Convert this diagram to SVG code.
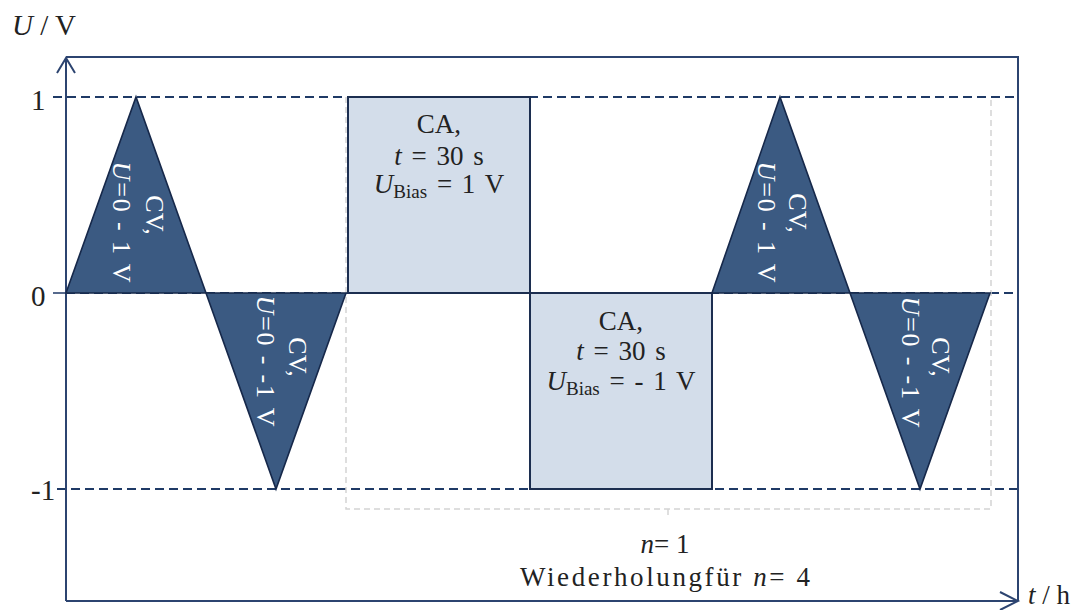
<svg xmlns="http://www.w3.org/2000/svg" width="1086" height="610" viewBox="0 0 1086 610">
<style>
text{font-family:"Liberation Serif","Times New Roman",serif;fill:#222;font-size:27px}
.lvl{stroke:#1f3a66;stroke-width:1.8;stroke-dasharray:9 5;fill:none}
.frame{stroke:#2c4470;stroke-width:2;fill:none}
.tri{fill:#3b5a82;stroke:#16284a;stroke-width:1.6;stroke-linejoin:miter}
.ca{fill:#d3ddea;stroke:#1c2e50;stroke-width:2}
.wt{fill:#ffffff;font-size:26px}
.it{font-style:italic}
.gray{stroke:#d4d4d4;stroke-width:1.5;stroke-dasharray:6 4;fill:none}
.lab{font-size:29px}
.ct{word-spacing:3px}
</style>
<rect x="0" y="0" width="1086" height="610" fill="#ffffff"/>
<g id="levels">
<line class="lvl" x1="53" y1="97" x2="1018" y2="97"/>
<line class="lvl" x1="66" y1="293" x2="1018" y2="293"/>
<line x1="53" y1="293" x2="66" y2="293" stroke="#2c4470" stroke-width="1.6"/>
<line class="lvl" x1="57" y1="489" x2="1018" y2="489"/>
</g>
<g id="bracket">
<path class="gray" d="M346,97 V509 H991 V97"/>
<line x1="668" y1="509" x2="668" y2="515" stroke="#d4d4d4" stroke-width="1.5"/>
</g>
<g id="axes">
<path class="frame" d="M66,601 V58 M57,73 L66,58 L75,73 M66,57 H1018 V601 M66,601 H1018 M1000,592 L1018,601 L1000,610"/>
</g>
<g id="cv1">
<polygon class="tri" points="66,293 136,97 206,293"/>
<text class="wt" text-anchor="middle" transform="translate(146,215) rotate(90)">CV,</text>
<text class="wt" text-anchor="middle" textLength="121" transform="translate(113,222) rotate(90)"><tspan class="it">U</tspan>=0 - 1 V</text>
</g>
<g id="cv2">
<polygon class="tri" points="206,293 276,489 346,293"/>
<text class="wt" text-anchor="middle" transform="translate(289,357) rotate(90)">CV,</text>
<text class="wt" text-anchor="middle" textLength="131" transform="translate(257,361) rotate(90)"><tspan class="it">U</tspan>=0 - -1 V</text>
</g>
<g id="ca1">
<rect class="ca" x="348" y="97" width="182" height="196"/>
<text text-anchor="middle" x="439" y="133">CA,</text>
<text class="ct" text-anchor="middle" x="439" y="165"><tspan class="it">t</tspan> = 30 s</text>
<text class="ct" text-anchor="middle" x="439" y="193"><tspan class="it">U</tspan><tspan font-size="19" dy="5">Bias</tspan><tspan dy="-5"> = 1 V</tspan></text>
</g>
<g id="ca2">
<rect class="ca" x="530" y="293" width="182" height="196"/>
<text text-anchor="middle" x="621" y="330">CA,</text>
<text class="ct" text-anchor="middle" x="621" y="360"><tspan class="it">t</tspan> = 30 s</text>
<text class="ct" text-anchor="middle" x="621" y="390"><tspan class="it">U</tspan><tspan font-size="19" dy="5">Bias</tspan><tspan dy="-5"> = - 1 V</tspan></text>
</g>
<g id="cv3">
<polygon class="tri" points="712,293 780,97 850,293"/>
<text class="wt" text-anchor="middle" transform="translate(789,213) rotate(90)">CV,</text>
<text class="wt" text-anchor="middle" textLength="121" transform="translate(758,222) rotate(90)"><tspan class="it">U</tspan>=0 - 1 V</text>
</g>
<g id="cv4">
<polygon class="tri" points="850,293 920,489 990,293"/>
<text class="wt" text-anchor="middle" transform="translate(932,357) rotate(90)">CV,</text>
<text class="wt" text-anchor="middle" textLength="131" transform="translate(902,362) rotate(90)"><tspan class="it">U</tspan>=0 - -1 V</text>
</g>
<g id="labels">
<text class="lab" x="12" y="35"><tspan class="it">U</tspan> / V</text>
<text class="lab" x="31" y="110">1</text>
<text class="lab" x="31" y="306">0</text>
<text class="lab" x="31" y="500">-1</text>
<text x="1028" y="604" font-size="26"><tspan class="it">t</tspan> / h</text>
<text text-anchor="middle" x="665" y="553" font-size="28"><tspan class="it">n</tspan>= 1</text>
<text text-anchor="middle" x="665" y="586" font-size="28" textLength="290">Wiederholungfür <tspan class="it">n</tspan>= 4</text>
</g>
</svg>
